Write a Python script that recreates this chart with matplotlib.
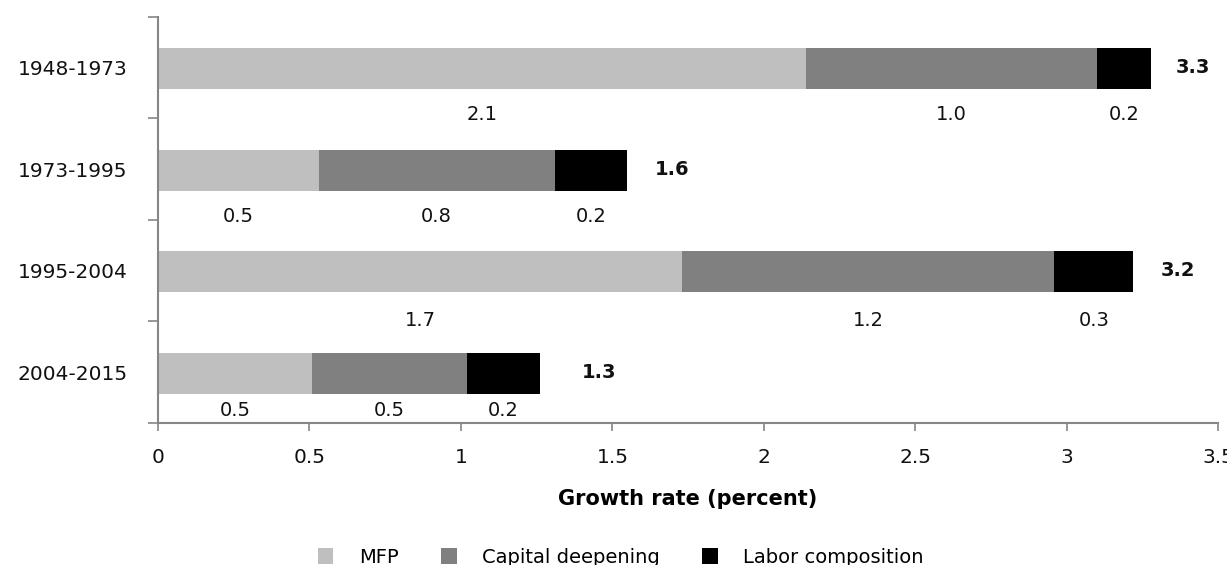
import matplotlib.pyplot as plt
from matplotlib.transforms import offset_copy
import numpy as np

plt.rcParams['font.family'] = ['DejaVu Sans']

# Dane
periods = ["1948-1973", "1973-1995", "1995-2004", "2004-2015"]
mfp = [2.14, 0.53, 1.73, 0.51]
capital = [0.96, 0.78, 1.23, 0.51]
labor = [0.18, 0.24, 0.26, 0.24]
mfp_labels = ["2.1", "0.5", "1.7", "0.5"]
capital_labels = ["1.0", "0.8", "1.2", "0.5"]
labor_labels = ["0.2", "0.2", "0.3", "0.2"]
total_labels = ["3.3", "1.6", "3.2", "1.3"]

series = [
    ("MFP", mfp, mfp_labels, "#BFBFBF"),
    ("Capital deepening", capital, capital_labels, "#808080"),
    ("Labor composition", labor, labor_labels, "#000000"),
]

fig = plt.figure(figsize=(12.27, 5.65), dpi=100)
ax = fig.add_axes([0.1288, 0.2513, 0.8639, 0.7187])

y = np.arange(len(periods))
left = np.zeros(len(periods))
label_drop = [0.46, 0.47, 0.49, 0.38]
handles = []
for name, vals, labs, col in series:
    vals = np.array(vals)
    h = ax.barh(y + 0.01, vals, left=left, height=0.4, color=col, label=name)
    handles.append(h)
    for i in range(len(periods)):
        ax.text(left[i] + vals[i] / 2, y[i] + label_drop[i], labs[i],
                ha='center', va='center', fontsize=14, color='#111111')
    left = left + vals

# Sumy pogrubione
total_pad = [24, 27, 27, 42]
for i in range(len(periods)):
    tr = offset_copy(ax.transData, fig=fig, x=total_pad[i], y=0, units='dots')
    ax.text(left[i], y[i], total_labels[i], transform=tr, ha='left', va='center',
            fontsize=14, fontweight='bold', color='#111111')

ax.set_ylim(len(periods) - 0.5, -0.5)
ax.set_xlim(0, 3.5)
ax.set_xticks(np.arange(0, 3.51, 0.5))
ax.set_xticklabels(["0", "0.5", "1", "1.5", "2", "2.5", "3", "3.5"])

# Etykiety kategorii na środku, znaczniki na granicach
ax.set_yticks(np.arange(-0.5, len(periods), 1.0))
ax.set_yticklabels([])
ax.set_yticks(y, minor=True)
ax.set_yticklabels(periods, minor=True)
ax.tick_params(axis='y', which='minor', length=0, pad=22, labelsize=14.5, labelcolor='#111111')
ax.tick_params(axis='y', which='major', length=7, width=1.2, color='#868686')
ax.tick_params(axis='x', length=6, width=1.2, color='#868686', labelsize=14.5,
               labelcolor='#111111', pad=12)

for s in ['top', 'right']:
    ax.spines[s].set_visible(False)
for s in ['left', 'bottom']:
    ax.spines[s].set_color('#868686')
    ax.spines[s].set_linewidth(1.5)

ax.set_xlabel("Growth rate (percent)", fontsize=15, fontweight='bold', labelpad=16)

fig.legend(handles=handles, loc='center', bbox_to_anchor=(0.506, 0.014), ncol=3,
           frameon=False, fontsize=14, handlelength=0.8, handleheight=0.9,
           handletextpad=1.3, columnspacing=2.2)

fig.savefig("out.png", dpi=100)
